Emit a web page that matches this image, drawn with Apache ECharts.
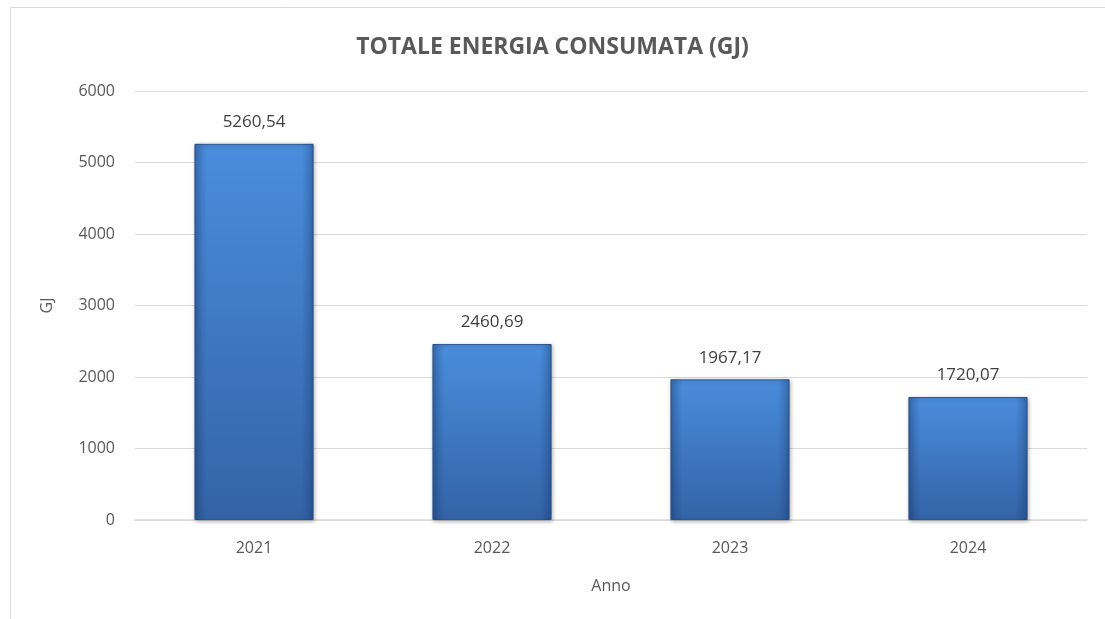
<!DOCTYPE html>
<html>
<head>
<meta charset="utf-8">
<script src="https://cdn.jsdelivr.net/npm/echarts@6/dist/echarts.min.js"></script>
<style>html,body{margin:0;padding:0;background:#fff}#c{width:1105px;height:619px}</style>
</head>
<body>
<div id="c"></div>
<script>
const categories = ['2021', '2022', '2023', '2024'];
const values = [5260.54, 2460.69, 1967.17, 1720.07];
const yTicks = [0, 1000, 2000, 3000, 4000, 5000, 6000];

const chart = echarts.init(document.getElementById('c'));
const font = '"Open Sans", "Liberation Sans", sans-serif';
chart.setOption({
  animation: false,
  backgroundColor: '#fff',
  graphic: [{
    type: 'rect', shape: {x: 10.5, y: 7.5, width: 1200, height: 700},
    style: {fill: 'none', stroke: '#d9d9d9', lineWidth: 1}, z: -1
  }],
  title: {
    text: 'TOTALE ENERGIA CONSUMATA (GJ)', left: 'center', top: 31,
    textStyle: {fontFamily: font, fontSize: 23, fontWeight: 'bold', color: '#595959'}
  },
  grid: {left: 135, right: 18, top: 91, bottom: 99},
  xAxis: {
    type: 'category', data: categories,
    name: 'Anno', nameLocation: 'middle', nameGap: 58,
    nameTextStyle: {fontFamily: font, fontSize: 16, color: '#595959'},
    axisLine: {lineStyle: {color: '#d9d9d9', width: 1.5}},
    axisTick: {show: false},
    axisLabel: {fontFamily: font, fontSize: 16, color: '#595959', margin: 20}
  },
  yAxis: {
    type: 'value', min: yTicks[0], max: yTicks[yTicks.length - 1], interval: 1000,
    name: 'GJ', nameLocation: 'middle', nameGap: 80, nameRotate: 90,
    nameTextStyle: {fontFamily: font, fontSize: 16, color: '#595959'},
    axisLine: {show: false}, axisTick: {show: false},
    axisLabel: {fontFamily: font, fontSize: 16, color: '#595959', margin: 20, formatter: v => String(v)},
    splitLine: {lineStyle: {color: '#d9d9d9', width: 1}}
  },
  series: [{
    type: 'bar', data: values, barWidth: '50%',
    itemStyle: {
      color: new echarts.graphic.LinearGradient(0, 0, 0, 1, [
        {offset: 0, color: '#4a8ddc'},
        {offset: 1, color: '#3363a6'}
      ]),
      borderColor: '#2e5a97', borderWidth: 1,
      shadowColor: 'rgba(0,0,0,0.3)', shadowBlur: 4, shadowOffsetX: 1, shadowOffsetY: 1
    },
    label: {
      show: true, position: 'top', distance: 13,
      fontFamily: font, fontSize: 17, color: '#404040',
      formatter: p => p.value.toFixed(2).replace('.', ',')
    }
  }, {
    type: 'bar', data: values, barWidth: '50%', barGap: '-100%', silent: true,
    itemStyle: {
      color: new echarts.graphic.LinearGradient(0, 0, 1, 0, [
        {offset: 0, color: 'rgba(20,50,100,0.35)'},
        {offset: 0.1, color: 'rgba(20,50,100,0)'},
        {offset: 0.9, color: 'rgba(20,50,100,0)'},
        {offset: 1, color: 'rgba(20,50,100,0.35)'}
      ])
    }
  }]
});
</script>
</body>
</html>
